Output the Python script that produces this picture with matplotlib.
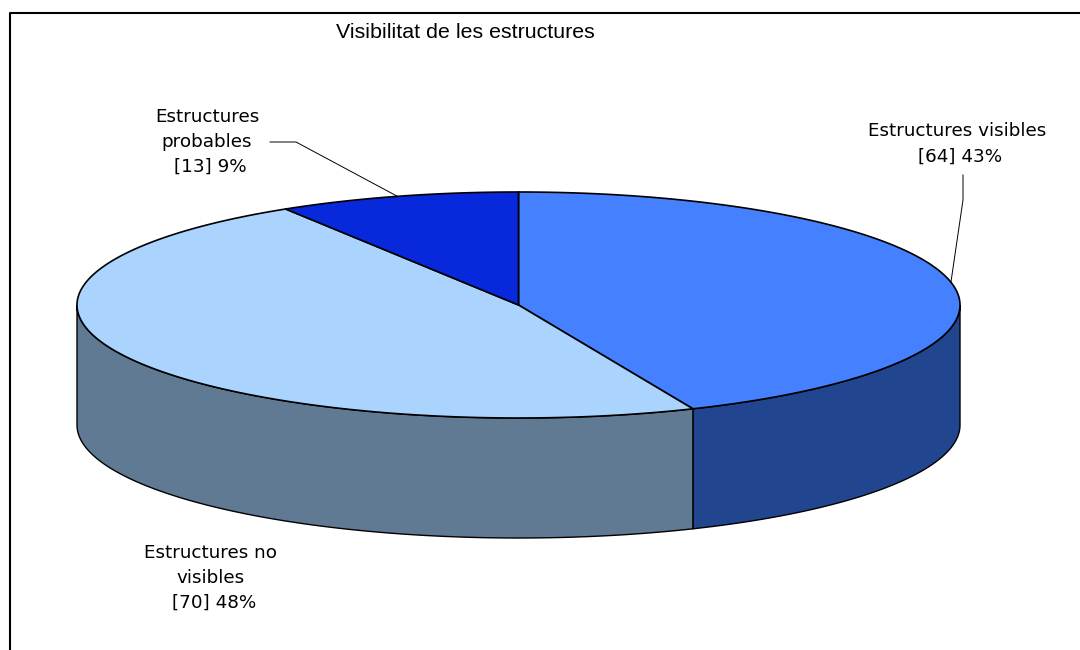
import numpy as np
import matplotlib
matplotlib.use('Agg')
import matplotlib.pyplot as plt
from matplotlib.patches import Polygon

# data
labels = ['Estructures visibles', 'Estructures no\nvisibles', 'Estructures\nprobables']
counts = [64, 70, 13]
pcts = [43, 48, 9]
top_colors = ['#4580fe', '#aad4fd', '#0828dc']
side_colors = ['#21458f', '#607a93', '#06188a']
title = 'Visibilitat de les estructures'

# geometry of the 3d pie (pixel coordinates)
cx, cy = 518.5, 305.0
rx, ry = 441.5, 113.0
depth = 120.0

fig = plt.figure(figsize=(10.8, 6.5), dpi=100)
ax = fig.add_axes([0, 0, 1, 1])
ax.set_xlim(0, 1080)
ax.set_ylim(650, 0)
ax.axis('off')


def pt(theta, dy=0.0):
    t = np.radians(theta)
    return cx + rx * np.sin(t), cy - ry * np.cos(t) + dy


total = float(sum(counts))
bounds = np.concatenate([[0], np.cumsum(counts) / total * 360.0])

# side walls (only the front half, 90..270 deg)
for i in range(len(counts)):
    a, b = max(bounds[i], 90), min(bounds[i + 1], 270)
    if a >= b:
        continue
    th = np.linspace(a, b, 120)
    xs, ys = pt(th)
    xb, yb = pt(th[::-1], depth)
    poly = np.column_stack([np.r_[xs, xb], np.r_[ys, yb]])
    ax.add_patch(Polygon(poly, closed=True, fc=side_colors[i], ec='black', lw=1.0, zorder=1))

# top slices
for i in range(len(counts)):
    th = np.linspace(bounds[i], bounds[i + 1], 200)
    xs, ys = pt(th)
    poly = np.column_stack([np.r_[cx, xs], np.r_[cy, ys]])
    ax.add_patch(Polygon(poly, closed=True, fc=top_colors[i], ec='black', lw=1.2, zorder=2))

# labels
fs = 13.2
ls = 1.5
mid = [(bounds[i] + bounds[i + 1]) / 2 for i in range(len(counts))]

ax.text(957, 144, f'{labels[0]}\n [{counts[0]}] {pcts[0]}%', ha='center', va='center',
        fontsize=fs, linespacing=ls)
ex, ey = pt(mid[0])
ax.plot([963, 963, ex], [175, 200, ey], color='black', lw=0.7, zorder=3)

ax.text(211, 578, f'{labels[1]}\n [{counts[1]}] {pcts[1]}%', ha='center', va='center',
        fontsize=fs, linespacing=ls)

ax.text(207, 142, f'{labels[2]}\n [{counts[2]}] {pcts[2]}%', ha='center', va='center',
        fontsize=fs, linespacing=ls)
ex, ey = pt(mid[2])
ax.plot([270, 296, ex], [142, 142, ey], color='black', lw=0.7, zorder=3)

ax.text(465, 32, title, ha='center', va='center', fontsize=15.4,
        family=['Liberation Sans Narrow', 'Liberation Sans', 'DejaVu Sans'])

# chart frame
ax.plot([10, 10, 1080], [650, 13, 13], color='black', lw=1.5, zorder=4)

plt.savefig('out.png', dpi=100)
